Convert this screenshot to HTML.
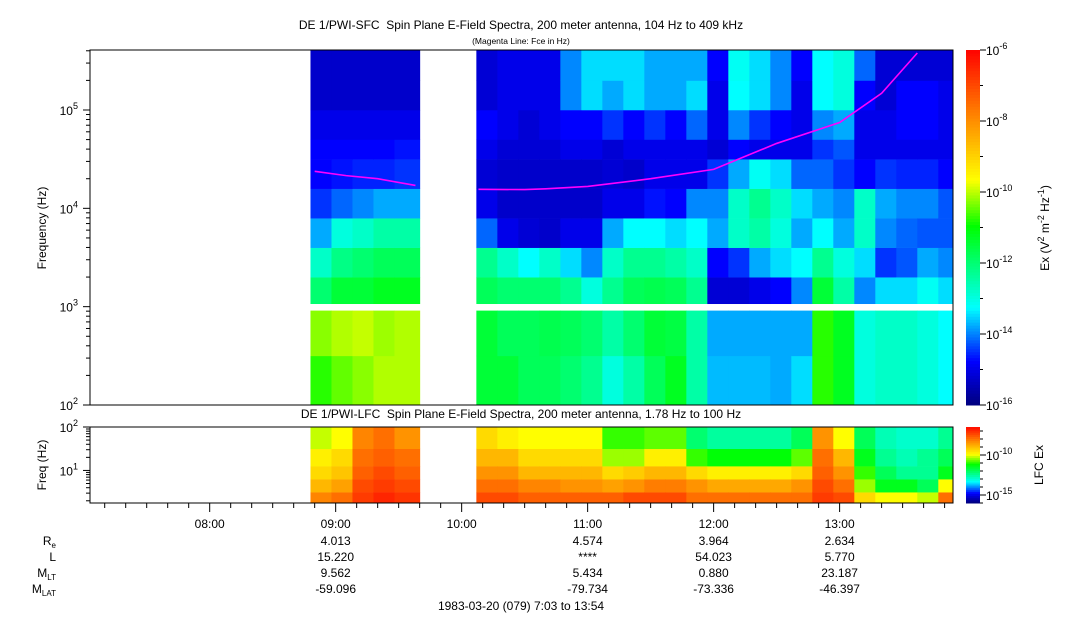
<!DOCTYPE html>
<html><head><meta charset="utf-8"><style>
html,body{margin:0;padding:0;background:#fff;}
svg{display:block;font-family:"Liberation Sans",sans-serif;}
</style></head><body>
<svg id="chart" width="1083" height="620" viewBox="0 0 1083 620" xmlns="http://www.w3.org/2000/svg">
<text x="521" y="29" font-size="12" text-anchor="middle">DE 1/PWI-SFC&#160; Spin Plane E-Field Spectra, 200 meter antenna, 104 Hz to 409 kHz</text>
<text x="521" y="44" font-size="8.5" text-anchor="middle">(Magenta Line: Fce in Hz)</text>
<text x="521" y="418" font-size="12" text-anchor="middle">DE 1/PWI-LFC&#160; Spin Plane E-Field Spectra, 200 meter antenna, 1.78 Hz to 100 Hz</text>
<g id="top-cells"></g>
<g id="low-cells"></g>
<g id="axes"></g>
<text transform="translate(46,228) rotate(-90)" font-size="12" text-anchor="middle">Frequency (Hz)</text>
<text transform="translate(46,465) rotate(-90)" font-size="12" text-anchor="middle">Freq (Hz)</text>
<text transform="translate(1049,228) rotate(-90)" font-size="12" text-anchor="middle">Ex (V<tspan baseline-shift="super" font-size="9">2</tspan> m<tspan baseline-shift="super" font-size="9">-2</tspan> Hz<tspan baseline-shift="super" font-size="9">-1</tspan>)</text>
<text transform="translate(1043,465) rotate(-90)" font-size="12" text-anchor="middle">LFC Ex</text>
<g font-size="12" text-anchor="end">
<text x="56" y="545">R<tspan font-size="8" dy="3">e</tspan></text>
<text x="56" y="561">L</text>
<text x="56" y="577">M<tspan font-size="8" dy="3">LT</tspan></text>
<text x="56" y="593">M<tspan font-size="8" dy="3">LAT</tspan></text>
</g>
<g id="ephem" font-size="12" text-anchor="middle"></g>
<text x="521" y="610" font-size="12" text-anchor="middle">1983-03-20 (079) 7:03 to 13:54</text>
</svg>
<script>
const timeStart = 423, timeEnd = 834;
const hourTicks = [480, 540, 600, 660, 720, 780];
const hourLabels = ["08:00","09:00","10:00","11:00","12:00","13:00"];
const topBandLo = [2.0,2.5,3.03,3.3,3.6,3.9,4.2,4.5,4.7,5.0,5.3];
const topBandHi = [2.5,2.96,3.3,3.6,3.9,4.2,4.5,4.7,5.0,5.3,5.61];
const segAEdges = [528,538,548,558,568,580];
const segBEdges = [607,617,627,637,647,657,667,677,687,697,707,717,727,737,747,757,767,777,787,797,807,817,827,834];
const topA = [
[-10.8,-10.3,-12,-12.8,-13.8,-14.5,-14.8,-14.8,-15,-15.3,-15.3],
[-10.5,-10.1,-11.5,-12.2,-13,-14.2,-14.7,-14.8,-15,-15.3,-15.3],
[-10.3,-10,-11.5,-12,-12.8,-14,-14.6,-14.8,-15,-15.3,-15.3],
[-10.1,-10.2,-11.3,-11.8,-12.5,-13.8,-14.6,-14.8,-15,-15.3,-15.3],
[-10.1,-10.1,-11.3,-11.8,-12.5,-13.8,-14.5,-14.7,-15,-15.3,-15.3]];
const topB = [
[-11.5,-11.5,-11.8,-12.3,-14.2,-15,-15.2,-15,-14.8,-15.2,-15.2],
[-11.5,-11.8,-12,-12.8,-15,-15.3,-15.3,-15.2,-15,-15,-15],
[-11.8,-11.8,-12,-13.3,-15.2,-15.3,-15.3,-15.2,-15.2,-15,-15],
[-11.8,-11.7,-12,-12.8,-15.3,-15.3,-15.3,-15.2,-15,-15,-15],
[-12,-11.8,-12.3,-13.5,-15,-15.3,-15.3,-15,-14.8,-14,-14],
[-12.3,-12,-13,-14,-15,-15.3,-15.3,-15,-14.8,-13.5,-13.5],
[-13,-12.5,-12.3,-12.8,-13.8,-15,-15.2,-15.2,-14.5,-13.8,-13.5],
[-12.5,-12,-11.8,-12.3,-13.3,-15,-15.3,-15,-14.8,-13.5,-13.5],
[-11.8,-11.5,-11.7,-12.3,-13.3,-14.7,-15,-15,-14.5,-13.8,-13.8],
[-11.3,-11.6,-11.8,-12.5,-13.5,-14.8,-15,-15,-14.8,-13.8,-13.8],
[-12.5,-12.5,-12.3,-12.8,-13.3,-14,-15,-15,-14.2,-13.5,-13.8],
[-13.7,-13.8,-15.2,-14.8,-13.8,-14,-14.5,-15.2,-15,-15,-14.8],
[-13.7,-13.8,-15.2,-14.5,-12.8,-12.8,-13.8,-14.8,-14,-13.3,-13.2],
[-13.7,-13.8,-15,-13.8,-12.5,-12.3,-13.2,-15,-14.5,-13.5,-13.5],
[-13.8,-13.8,-14.8,-13.5,-13,-12.8,-13.5,-15,-14.8,-14,-14],
[-13.5,-13.8,-14,-13.3,-13.8,-13.5,-14.2,-15,-15,-15,-14.8],
[-10.8,-10.8,-11.5,-12.3,-13.3,-13.8,-14.2,-14.5,-14,-13.3,-13.3],
[-11.3,-11.3,-12.5,-13,-13.8,-14,-14.5,-14.3,-13.8,-13,-13],
[-13,-13,-14,-13.5,-12.8,-12.8,-14.8,-15,-15,-14.8,-14.2],
[-12.8,-12.8,-13.5,-14.5,-14,-13.8,-14.5,-15,-15,-15.2,-15.2],
[-12.8,-12.8,-13.5,-14.3,-14.2,-14,-14.6,-15,-14.8,-14.8,-15.2],
[-13,-13,-13.2,-13.8,-14.3,-14,-14.6,-15,-14.8,-14.8,-15.2],
[-13.3,-13.3,-13.5,-14,-14.3,-14.3,-14.8,-15,-15,-15,-15.2]];
const lowBandLo = [0.25,0.5,0.8,1.1,1.5];
const lowBandHi = [0.5,0.8,1.1,1.5,2.0];
const lowA = [
[-8.3,-9,-9.5,-9.8,-10.3],[-8,-8.7,-9.2,-9.5,-10],[-7.3,-7.5,-7.8,-8,-8.3],[-7,-7.3,-7.5,-7.8,-8],[-7.2,-7.5,-7.8,-8,-8.5]];
const lowB = [
[-7.5,-8,-8.5,-9,-9.5],[-7.5,-8,-8.5,-9,-9.8],[-7.8,-8.3,-9,-9.5,-10],[-7.8,-8.3,-9,-9.5,-10],
[-7.8,-8.5,-9,-9.5,-10],[-7.8,-8.5,-9,-9.5,-10],[-7.8,-8.7,-9.5,-10.5,-11],[-7.5,-8.5,-9.3,-10.5,-11],
[-7.5,-8.2,-9,-9.8,-10.8],[-7.5,-8.2,-9,-9.8,-10.8],[-8,-8.5,-9.5,-11,-12.2],[-8,-8.8,-9.8,-11.3,-12.6],
[-8,-8.8,-9.8,-11.3,-12.6],[-8,-8.8,-9.8,-11.3,-12.6],[-8,-8.8,-9.8,-11.3,-12.6],[-8,-8.5,-9.5,-10.8,-12],
[-7.3,-7.5,-7.8,-8,-8.5],[-7.5,-8,-8.5,-9,-10],[-9.5,-10.5,-11,-11.5,-12],[-10,-11.5,-12,-12.5,-12.8],
[-10,-11.5,-12.5,-12.8,-13],[-10.3,-12,-12.5,-12.5,-13],[-8,-10,-11.5,-12,-12.5]];
const fceTimesA = [530,545,560,578];
const fceHzA = [23800,21500,20000,17100];
const fceTimesB = [608,630,640,660,690,720,750,780,800,817];
const fceHzB = [15600,15500,15800,16700,20000,24900,45700,74600,148000,380000];
const ephTimes = [540,660,720,780];
const ephRe = ["4.013","4.574","3.964","2.634"];
const ephL = ["15.220","****","54.023","5.770"];
const ephMLT = ["9.562","5.434","0.880","23.187"];
const ephMLAT = ["-59.096","-79.734","-73.336","-46.397"];
const cbTicks = [-6,-8,-10,-12,-14,-16];
const cbLowTicks = [-10,-15];

const NS="http://www.w3.org/2000/svg";
const X0=90,X1=953, TY0=50,TY1=405, LY0=427,LY1=503;
const xS=t=>X0+(t-timeStart)/(timeEnd-timeStart)*(X1-X0);
const yTop=l=>TY1-(l-2)*(TY1-TY0)/3.61;
const yLow=l=>LY1-(l-0.25)*(LY1-LY0)/1.75;
const stops=[[0,[0,0,130]],[0.12,[0,0,255]],[0.27,[0,255,255]],[0.5,[0,255,0]],[0.63,[255,255,0]],[0.8,[255,140,0]],[1,[255,0,0]]];
function cmap(v,lo,hi){let f=(v-lo)/(hi-lo);f=Math.max(0,Math.min(1,f));
 for(let i=1;i<stops.length;i++){if(f<=stops[i][0]){const a=stops[i-1],b=stops[i],u=(f-a[0])/(b[0]-a[0]);
 return `rgb(${a[1].map((c,k)=>Math.round(c+(b[1][k]-c)*u)).join(',')})`;}}return 'rgb(255,0,0)';}
function el(tag,attrs,parent){const e=document.createElementNS(NS,tag);for(const k in attrs)e.setAttribute(k,attrs[k]);parent.appendChild(e);return e;}
const gT=document.getElementById('top-cells'),gL=document.getElementById('low-cells'),gA=document.getElementById('axes');
function drawCells(edges,data,lo,hi,yf,g,vlo,vhi){
 for(let c=0;c<data.length;c++){const xa=xS(edges[c]),xb=xS(edges[c+1]);
  for(let b=0;b<lo.length;b++){const ya=yf(hi[b]),yb=yf(lo[b]);
   const r=el('rect',{x:xa,y:ya,width:xb-xa+0.5,height:yb-ya+0.3,fill:cmap(data[c][b],vlo,vhi)},g);
   
   }}}
drawCells(segAEdges,topA,topBandLo,topBandHi,yTop,gT,-16,-6);
drawCells(segBEdges,topB,topBandLo,topBandHi,yTop,gT,-16,-6);
drawCells(segAEdges,lowA,lowBandLo,lowBandHi,yLow,gL,-16,-6.5);
drawCells(segBEdges,lowB,lowBandLo,lowBandHi,yLow,gL,-16,-6.5);
function fceLine(ts,hz){const pts=ts.map((t,i)=>[xS(t),Math.max(TY0,yTop(Math.log10(hz[i])))]);
 const p=el('polyline',{points:pts.map(p=>p.join(',')).join(' '),fill:'none',stroke:'#ff00ff','stroke-width':1.6},gT);
 
 }
fceLine(fceTimesA,fceHzA);fceLine(fceTimesB,fceHzB);
[[TY0,TY1],[LY0,LY1]].forEach(([a,b])=>{const f=el('rect',{x:X0,y:a,width:X1-X0,height:b-a,fill:'none',stroke:'#000','stroke-width':1},gA);
 
 });
for(let d=2;d<=5;d++){for(let m=1;m<10;m++){const l=d+Math.log10(m);if(l>5.61)break;const y=yTop(l);
 el('line',{x1:X0,x2:X0-(m==1?7:4),y1:y,y2:y,stroke:'#000'},gA);}
 const t=el('text',{x:78,y:yTop(d)+5,'font-size':12,'text-anchor':'end'},gA);t.innerHTML=`10<tspan font-size="9" dy="-6">${d}</tspan>`;
 
 }
for(let d=0;d<=2;d++){for(let m=1;m<10;m++){const l=d+Math.log10(m);if(l<0.25)continue;if(l>2)break;const y=yLow(l);
 el('line',{x1:X0,x2:X0-(m==1?7:4),y1:y,y2:y,stroke:'#000'},gA);}
 if(d>=1){const t=el('text',{x:78,y:yLow(d)+5,'font-size':12,'text-anchor':'end'},gA);t.innerHTML=`10<tspan font-size="9" dy="-6">${d}</tspan>`;
 
 }}
for(let t=430;t<=830;t+=10){const x=xS(t);const maj=hourTicks.includes(t);el('line',{x1:x,x2:x,y1:LY1,y2:LY1+(maj?9:5),stroke:'#000'},gA);}
hourTicks.forEach((t,i)=>{const e=el('text',{x:xS(t),y:528,'font-size':12,'text-anchor':'middle'},gA);e.textContent=hourLabels[i];
 
 });
const CX=966,CW=14;
for(let i=0;i<120;i++){const v=-16+10*i/120;const y=TY1-(i+1)*(TY1-TY0)/120;el('rect',{x:CX,y:y,width:CW,height:(TY1-TY0)/120+0.5,fill:cmap(v,-16,-6)},gA);}
for(let i=0;i<40;i++){const v=-16+9.5*i/40;const y=LY1-(i+1)*(LY1-LY0)/40;el('rect',{x:CX,y:y,width:CW,height:(LY1-LY0)/40+0.5,fill:cmap(v,-16,-6.5)},gA);}
for(let v=-16;v<=-6;v++){const y=TY1-(v+16)*(TY1-TY0)/10;el('line',{x1:CX+CW,x2:CX+CW+(v%2==0?6:3),y1:y,y2:y,stroke:'#000'},gA);}
cbTicks.forEach(v=>{const y=TY1-(v+16)*(TY1-TY0)/10;const t=el('text',{x:CX+CW+6,y:y+5,'font-size':12},gA);t.innerHTML=`10<tspan font-size="9" dy="-6">${v}</tspan>`;
 
 });
for(let v=-16;v<=-7;v++){const y=LY1-(v+16)*(LY1-LY0)/9.5;el('line',{x1:CX+CW,x2:CX+CW+(v%5==0?6:3),y1:y,y2:y,stroke:'#000'},gA);}
cbLowTicks.forEach(v=>{const y=LY1-(v+16)*(LY1-LY0)/9.5;const t=el('text',{x:CX+CW+6,y:y+5,'font-size':12},gA);t.innerHTML=`10<tspan font-size="9" dy="-6">${v}</tspan>`;
 
 });
const gE=document.getElementById('ephem');
[ephRe,ephL,ephMLT,ephMLAT].forEach((row,r)=>row.forEach((s,i)=>{const e=el('text',{x:xS(ephTimes[i]),y:545+16*r},gE);e.textContent=s;
 
 }));
</script>
</body></html>
